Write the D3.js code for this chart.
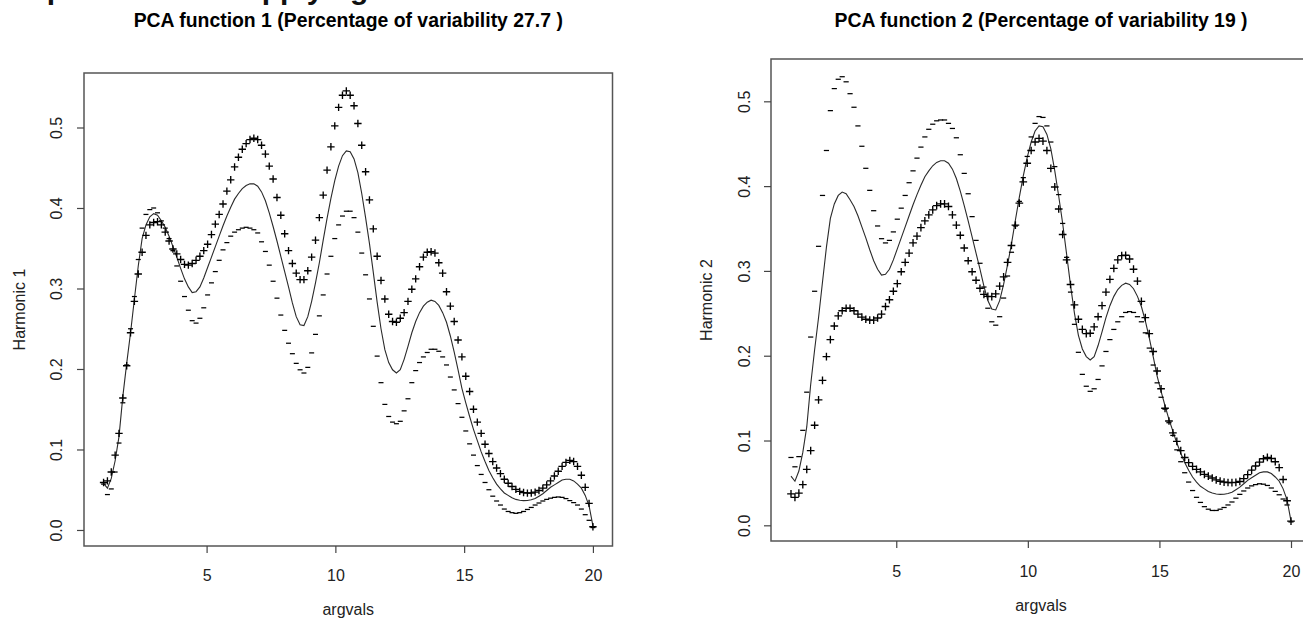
<!DOCTYPE html>
<html>
<head>
<meta charset="utf-8">
<script src="https://cdn.jsdelivr.net/npm/d3@7"></script>
<style>
  body { margin: 0; background: #fff; }
  svg { display: block; font-family: "Liberation Sans", Arial, sans-serif; }
</style>
</head>
<body>
<svg id="chart" width="1303" height="621"></svg>
<script>
// Evaluation grid of the functional data (128 points from 1 to 20)
const argRange = [1, 20];
const nArg = 128;
const argvals = d3.range(nArg).map(i => argRange[0] + i * (argRange[1] - argRange[0]) / (nArg - 1));

// Mean function (solid line, shared by both panels)
const meanCurve = [
  0.058,0.052,0.064,0.086,0.116,0.166,0.207,0.245,0.287,0.328,
  0.362,0.379,0.389,0.393,0.391,0.384,0.376,0.365,0.352,0.339,
  0.325,0.312,0.302,0.295,0.296,0.302,0.313,0.326,0.339,0.352,
  0.365,0.378,0.390,0.401,0.411,0.418,0.424,0.428,0.430,0.430,
  0.427,0.420,0.409,0.394,0.377,0.359,0.340,0.321,0.302,0.282,
  0.265,0.255,0.254,0.265,0.284,0.307,0.332,0.360,0.387,0.412,
  0.434,0.452,0.465,0.471,0.470,0.461,0.444,0.418,0.388,0.356,
  0.320,0.283,0.250,0.224,0.208,0.199,0.195,0.199,0.212,0.228,
  0.245,0.259,0.270,0.278,0.283,0.2855,0.284,0.279,0.270,0.258,
  0.241,0.221,0.199,0.176,0.158,0.141,0.125,0.111,0.097,0.085,
  0.074,0.065,0.057,0.051,0.046,0.043,0.040,0.038,0.037,0.0365,
  0.0367,0.0375,0.039,0.042,0.045,0.049,0.053,0.056,0.059,0.062,
  0.063,0.063,0.061,0.057,0.052,0.043,0.030,0.005
];

// Mean + harmonic 1 ("+") and mean - harmonic 1 ("-")
const harm1Plus = [
  0.059,0.061,0.072,0.093,0.120,0.164,0.204,0.245,0.284,0.318,
  0.345,0.366,0.379,0.382,0.383,0.379,0.370,0.359,0.349,0.343,
  0.336,0.330,0.329,0.331,0.335,0.340,0.347,0.355,0.367,0.380,
  0.392,0.405,0.421,0.435,0.451,0.463,0.473,0.480,0.485,0.4866,
  0.485,0.478,0.467,0.452,0.436,0.413,0.391,0.368,0.347,0.331,
  0.319,0.311,0.311,0.322,0.339,0.360,0.388,0.416,0.447,0.476,
  0.502,0.525,0.540,0.5455,0.540,0.527,0.505,0.478,0.445,0.410,
  0.374,0.340,0.310,0.287,0.268,0.259,0.258,0.263,0.270,0.284,
  0.299,0.312,0.327,0.339,0.345,0.3457,0.344,0.332,0.319,0.296,
  0.278,0.259,0.236,0.215,0.191,0.172,0.150,0.134,0.120,0.1065,
  0.095,0.085,0.077,0.070,0.063,0.058,0.054,0.0505,0.048,0.0465,
  0.0458,0.046,0.047,0.049,0.052,0.056,0.061,0.067,0.073,0.079,
  0.084,0.0865,0.085,0.079,0.068,0.053,0.033,0.004
];
const harm1Minus = [
  0.057,0.044,0.051,0.072,0.108,0.158,0.205,0.250,0.290,0.336,
  0.375,0.392,0.398,0.400,0.394,0.384,0.375,0.362,0.347,0.328,
  0.309,0.290,0.273,0.260,0.257,0.263,0.276,0.292,0.307,0.321,
  0.335,0.348,0.357,0.365,0.370,0.373,0.375,0.376,0.375,0.373,
  0.369,0.358,0.346,0.329,0.309,0.288,0.267,0.248,0.232,0.219,
  0.207,0.199,0.195,0.202,0.220,0.243,0.266,0.292,0.318,0.340,
  0.362,0.379,0.390,0.396,0.396,0.388,0.370,0.344,0.317,0.287,
  0.253,0.216,0.183,0.156,0.141,0.134,0.132,0.135,0.148,0.163,
  0.183,0.198,0.208,0.215,0.2205,0.2245,0.2245,0.222,0.215,0.205,
  0.190,0.174,0.157,0.140,0.123,0.107,0.093,0.080,0.069,0.059,
  0.050,0.042,0.036,0.031,0.026,0.023,0.0215,0.0207,0.0215,0.023,
  0.0255,0.028,0.031,0.0335,0.036,0.038,0.0395,0.0405,0.041,0.0405,
  0.039,0.0365,0.034,0.031,0.026,0.019,0.012,0.003
];

// Mean + harmonic 2 ("+") and mean - harmonic 2 ("-")
const harm2Plus = [
  0.037,0.033,0.038,0.048,0.066,0.088,0.118,0.148,0.171,0.199,
  0.219,0.235,0.247,0.253,0.256,0.256,0.253,0.249,0.2455,0.243,
  0.242,0.242,0.2445,0.249,0.258,0.266,0.276,0.285,0.299,0.310,
  0.321,0.333,0.341,0.351,0.359,0.366,0.372,0.377,0.379,0.379,
  0.376,0.366,0.354,0.342,0.327,0.312,0.299,0.289,0.2795,0.2723,
  0.270,0.2696,0.273,0.282,0.293,0.310,0.330,0.354,0.380,0.405,
  0.427,0.442,0.452,0.4563,0.453,0.442,0.421,0.399,0.373,0.343,
  0.313,0.284,0.260,0.243,0.231,0.226,0.2265,0.234,0.246,0.259,
  0.275,0.290,0.303,0.313,0.318,0.3185,0.314,0.302,0.288,0.264,
  0.245,0.226,0.205,0.182,0.161,0.138,0.123,0.109,0.099,0.088,
  0.080,0.074,0.0695,0.066,0.063,0.060,0.058,0.0558,0.0536,0.052,
  0.051,0.0505,0.0503,0.0507,0.0517,0.055,0.0598,0.065,0.070,0.0746,
  0.0785,0.080,0.0788,0.075,0.068,0.054,0.029,0.005
];
const harm2Minus = [
  0.080,0.069,0.081,0.112,0.157,0.222,0.276,0.329,0.389,0.442,
  0.489,0.515,0.526,0.529,0.523,0.509,0.493,0.471,0.447,0.421,
  0.395,0.371,0.353,0.338,0.333,0.336,0.346,0.361,0.374,0.389,
  0.404,0.418,0.433,0.446,0.458,0.467,0.473,0.477,0.478,0.478,
  0.474,0.468,0.457,0.437,0.415,0.391,0.364,0.336,0.309,0.281,
  0.256,0.240,0.236,0.246,0.268,0.294,0.322,0.353,0.382,0.410,
  0.435,0.458,0.474,0.482,0.481,0.471,0.452,0.423,0.390,0.356,
  0.316,0.275,0.237,0.204,0.178,0.164,0.158,0.161,0.172,0.188,
  0.205,0.219,0.231,0.240,0.246,0.251,0.252,0.251,0.246,0.240,
  0.227,0.209,0.189,0.168,0.151,0.137,0.121,0.106,0.089,0.075,
  0.062,0.051,0.041,0.033,0.027,0.022,0.019,0.0175,0.0175,0.019,
  0.021,0.024,0.0275,0.032,0.0365,0.0405,0.044,0.0465,0.048,0.049,
  0.0485,0.047,0.044,0.040,0.036,0.031,0.024,0.004
];

const xTicks = [5, 10, 15, 20];
const yTicks = [0, 0.1, 0.2, 0.3, 0.4, 0.5];
const titles = [
  "PCA function 1 (Percentage of variability 27.7 )",
  "PCA function 2 (Percentage of variability 19 )"
];
const yLabels = ["Harmonic 1", "Harmonic 2"];
const xLabel = "argvals";
const pageHeading = "Components after applying varimax rotation";

// Layout of the two panels
const xDomain = [0.24, 20.76];
const panels = [
  { title: titles[0], ylab: yLabels[0], plus: harm1Plus, minus: harm1Minus,
    frame: { left: 84, right: 612.5, top: 73, bottom: 546 }, yDomain: [-0.0199, 0.5677],
    titleY: 27, xLabY: 615, tickLabDy: 35, yTickLabOff: -22, yLabX: 25, mark: 1 },
  { title: titles[1], ylab: yLabels[1], plus: harm2Plus, minus: harm2Minus,
    frame: { left: 771, right: 1311, top: 59, bottom: 541 }, yDomain: [-0.0185, 0.5499],
    titleY: 27, xLabY: 611, tickLabDy: 36, yTickLabOff: -21.5, yLabX: 711.5, mark: 1.04 }
];

const svg = d3.select("#chart");

// Page heading above the panels; only its descenders reach into the view
svg.append("text")
  .attr("x", -20).attr("y", -1)
  .attr("font-size", 30).attr("font-weight", "bold").attr("fill", "#111")
  .text(pageHeading);

panels.forEach(p => {
  const x = d3.scaleLinear().domain(xDomain).range([p.frame.left, p.frame.right]);
  const y = d3.scaleLinear().domain(p.yDomain).range([p.frame.bottom, p.frame.top]);
  const g = svg.append("g");

  // mean function
  g.append("path")
    .datum(meanCurve)
    .attr("fill", "none")
    .attr("stroke", "#2a2a2a")
    .attr("stroke-width", 1.1)
    .attr("d", d3.line().x((d, i) => x(argvals[i])).y(d => y(d)));

  const a = 3.7 * p.mark, b = 2.5 * p.mark;
  // "+" markers
  g.append("g").selectAll("path")
    .data(p.plus)
    .join("path")
    .attr("transform", (d, i) => `translate(${x(argvals[i])},${y(d)})`)
    .attr("d", `M${-a},0H${a}M0,${-a}V${a}`)
    .attr("stroke", "#000")
    .attr("stroke-width", 1.35);

  // "-" markers
  g.append("g").selectAll("path")
    .data(p.minus)
    .join("path")
    .attr("transform", (d, i) => `translate(${x(argvals[i])},${y(d)})`)
    .attr("d", `M${-b},0H${b}`)
    .attr("stroke", "#000")
    .attr("stroke-width", 1.25);

  // plot frame
  g.append("rect")
    .attr("x", p.frame.left).attr("y", p.frame.top)
    .attr("width", p.frame.right - p.frame.left)
    .attr("height", p.frame.bottom - p.frame.top)
    .attr("fill", "none")
    .attr("stroke", "#555")
    .attr("stroke-width", 1.5);

  // x axis
  const xa = g.append("g")
    .attr("transform", `translate(0,${p.frame.bottom})`)
    .call(d3.axisBottom(x).tickValues(xTicks).tickSize(7).tickFormat(d3.format("d")));
  xa.select(".domain").remove();
  xa.selectAll(".tick line").attr("stroke", "#444").attr("stroke-width", 1.2);
  xa.selectAll(".tick text")
    .attr("y", p.tickLabDy).attr("dy", 0)
    .attr("font-size", 16).attr("font-family", "Liberation Sans, Arial, sans-serif")
    .attr("fill", "#222");

  // y axis with rotated labels
  const ya = g.append("g")
    .attr("transform", `translate(${p.frame.left},0)`)
    .call(d3.axisLeft(y).tickValues(yTicks).tickSize(7).tickFormat(d3.format(".1f")));
  ya.select(".domain").remove();
  ya.selectAll(".tick line").attr("stroke", "#444").attr("stroke-width", 1.2);
  ya.selectAll(".tick text")
    .attr("transform", "rotate(-90)")
    .attr("x", 0).attr("y", p.yTickLabOff).attr("dy", 0)
    .attr("text-anchor", "middle")
    .attr("font-size", 16).attr("font-family", "Liberation Sans, Arial, sans-serif")
    .attr("fill", "#222");

  const cx = (p.frame.left + p.frame.right) / 2;
  const cy = (p.frame.top + p.frame.bottom) / 2;

  // title
  g.append("text")
    .attr("x", cx).attr("y", p.titleY)
    .attr("text-anchor", "middle")
    .attr("font-size", 19.4).attr("font-weight", "bold").attr("fill", "#000")
    .text(p.title);

  // axis titles
  g.append("text")
    .attr("x", cx).attr("y", p.xLabY)
    .attr("text-anchor", "middle")
    .attr("font-size", 16).attr("fill", "#222")
    .text(xLabel);

  g.append("text")
    .attr("transform", `translate(${p.yLabX},${cy}) rotate(-90)`)
    .attr("text-anchor", "middle")
    .attr("font-size", 16).attr("fill", "#222")
    .text(p.ylab);
});
</script>
</body>
</html>
